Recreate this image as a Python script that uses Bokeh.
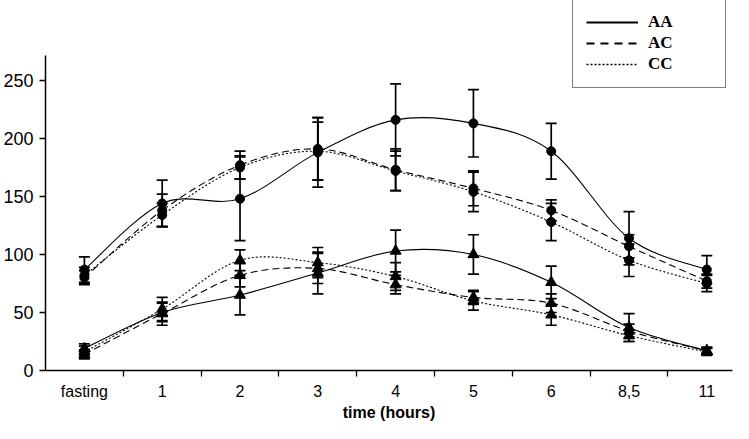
from bokeh.plotting import figure
from bokeh.models import (FixedTicker, Whisker, ColumnDataSource, Legend, LegendItem,
                          Range1d, TeeHead)
from bokeh.embed import file_html
from bokeh.resources import INLINE

categories = ["fasting", "1", "2", "3", "4", "5", "6", "8,5", "11"]
xpos = list(range(len(categories)))

# upper group (circles)
aa_c = [87, 144, 148, 188, 216, 213, 189, 114, 87]
aa_c_err = [11, 20, 36, 30, 31, 29, 24, 23, 12]
ac_c = [80, 138, 177, 191, 173, 157, 138, 107, 77]
ac_c_err = [6, 14, 12, 27, 18, 15, 9, 10, 6]
cc_c = [82, 134, 175, 189, 172, 154, 128, 95, 75]
cc_c_err = [7, 10, 10, 25, 17, 17, 16, 14, 7]

# lower group (triangles)
aa_t = [19, 50, 65, 84, 103, 100, 76, 37, 17]
aa_t_err = [4, 8, 17, 18, 18, 17, 14, 12, 3]
ac_t = [14, 49, 82, 88, 74, 63, 58, 34, 17]
ac_t_err = [4, 10, 10, 13, 8, 6, 8, 6, 3]
cc_t = [16, 53, 95, 93, 81, 60, 48, 30, 16]
cc_t_err = [5, 10, 9, 13, 12, 8, 9, 5, 3]

y_ticks = [0, 50, 100, 150, 200, 250]
y_axis_top = 271.5

legend_labels = ["AA", "AC", "CC"]
dashes = ["solid", "7 4", "2 2"]
legend_dashes = ["solid", "8 6", "2 2"]
legend_widths = [2, 2, 1.4]

p = figure(width=733, height=423, output_backend="svg", toolbar_location=None,
           x_range=Range1d(-0.5, 8.33), y_range=Range1d(0, 318.9),
           min_border_left=45, min_border_right=1, min_border_top=0, min_border_bottom=53)
p.outline_line_color = None
p.xgrid.grid_line_color = None
p.ygrid.grid_line_color = None


def smooth_segments(xs, ys):
    n = len(xs)
    d = dict(x0=[], y0=[], x1=[], y1=[], cx0=[], cy0=[], cx1=[], cy1=[])
    for i in range(n - 1):
        xm, ym = (xs[i - 1], ys[i - 1]) if i > 0 else (xs[i], ys[i])
        xp, yp = (xs[i + 2], ys[i + 2]) if i + 2 < n else (xs[i + 1], ys[i + 1])
        d["x0"].append(xs[i]); d["y0"].append(ys[i])
        d["x1"].append(xs[i + 1]); d["y1"].append(ys[i + 1])
        d["cx0"].append(xs[i] + (xs[i + 1] - xm) / 6)
        d["cy0"].append(ys[i] + (ys[i + 1] - ym) / 6)
        d["cx1"].append(xs[i + 1] - (xp - xs[i]) / 6)
        d["cy1"].append(ys[i + 1] - (yp - ys[i]) / 6)
    return ColumnDataSource(d)


groups = [
    ([aa_c, ac_c, cc_c], [aa_c_err, ac_c_err, cc_c_err], "circle", 9),
    ([aa_t, ac_t, cc_t], [aa_t_err, ac_t_err, cc_t_err], "triangle", 11),
]

for vals_list, errs_list, marker, msize in groups:
    for vals, errs in zip(vals_list, errs_list):
        src = ColumnDataSource(dict(x=xpos, y=vals,
                                    lo=[v - e for v, e in zip(vals, errs)],
                                    hi=[v + e for v, e in zip(vals, errs)]))
        w = Whisker(source=src, base="x", upper="hi", lower="lo", dimension="height",
                    line_color="black", line_width=1.7,
                    upper_head=TeeHead(size=11, line_color="black", line_width=1.7),
                    lower_head=TeeHead(size=11, line_color="black", line_width=1.7))
        p.add_layout(w)
    for vals, dash in zip(vals_list, dashes):
        seg = smooth_segments(xpos, vals)
        p.bezier(x0="x0", y0="y0", x1="x1", y1="y1", cx0="cx0", cy0="cy0",
                 cx1="cx1", cy1="cy1", source=seg, line_color="black",
                 line_width=1.1, line_dash=dash)
    for vals in vals_list:
        p.scatter(xpos, vals, marker=marker, size=msize, fill_color="black",
                  line_color="black")

# legend-only line renderers (a single NaN row, nothing drawn in the plot)
legend_renderers = []
for dash, lw in zip(legend_dashes, legend_widths):
    legend_renderers.append(p.line(x=[float("nan")], y=[float("nan")],
                                   line_color="black", line_width=lw, line_dash=dash))

# axes
p.xaxis.ticker = FixedTicker(ticks=xpos, minor_ticks=[i + 0.5 for i in xpos])
p.xaxis.major_label_overrides = {i: c for i, c in zip(xpos, categories)}
p.xaxis.major_tick_out = 0
p.xaxis.major_tick_in = 0
p.xaxis.minor_tick_out = 6
p.xaxis.minor_tick_in = 0
p.xaxis.minor_tick_line_color = "black"
p.xaxis.minor_tick_line_width = 1.3
p.xaxis.axis_line_width = 1.5
p.xaxis.axis_line_color = "black"
p.xaxis.major_label_text_font = "Liberation Sans"
p.xaxis.major_label_text_font_size = "16px"
p.xaxis.major_label_text_color = "black"
p.xaxis.major_label_standoff = 6
p.xaxis.axis_label = "time (hours)"
p.xaxis.axis_label_text_font = "Liberation Sans"
p.xaxis.axis_label_text_font_style = "bold"
p.xaxis.axis_label_text_font_size = "16px"
p.xaxis.axis_label_text_color = "black"
p.xaxis.axis_label_standoff = 1

p.yaxis.ticker = FixedTicker(ticks=y_ticks)
p.yaxis.bounds = (0, y_axis_top)
p.yaxis.minor_tick_out = 0
p.yaxis.minor_tick_in = 0
p.yaxis.major_tick_out = 6
p.yaxis.major_tick_in = 0
p.yaxis.major_tick_line_width = 1.3
p.yaxis.axis_line_width = 1.5
p.yaxis.major_label_text_font = "Liberation Sans"
p.yaxis.major_label_text_font_size = "18px"
p.yaxis.major_label_text_color = "black"
p.yaxis.major_label_standoff = 6

legend = Legend(items=[LegendItem(label=lab, renderers=[r])
                       for lab, r in zip(legend_labels, legend_renderers)],
                location=(527, 282), orientation="vertical",
                glyph_width=52, glyph_height=20, label_height=20, spacing=1,
                padding=13, margin=0, label_standoff=10, label_width=64,
                label_text_font="Liberation Serif", label_text_font_size="17px",
                label_text_font_style="bold",
                label_text_color="black",
                border_line_color="black", border_line_width=1.5,
                background_fill_color="white", background_fill_alpha=1.0)
p.add_layout(legend)

open("out.html", "w").write(file_html(p, INLINE))
